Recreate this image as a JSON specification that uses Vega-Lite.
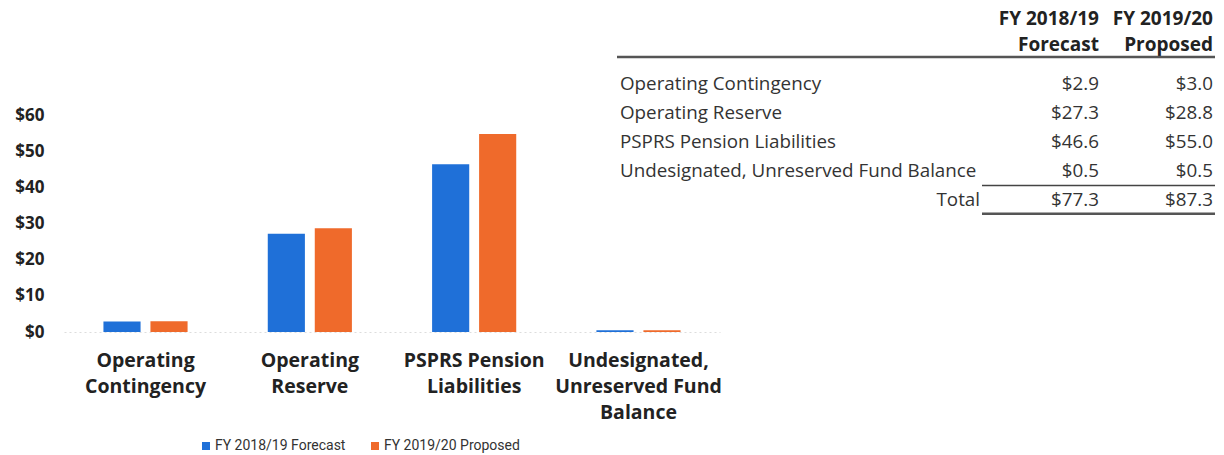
{
  "$schema": "https://vega.github.io/schema/vega-lite/v6.json",
  "width": 1160,
  "height": 332,
  "autosize": "none",
  "padding": {"left": 64, "top": 0, "right": 0, "bottom": 123},
  "background": "white",
  "config": {"view": {"stroke": null}, "font": "Open Sans"},
  "datasets": {
    "reserves": [
      {"item": "Operating Contingency", "period": "FY 2018/19 Forecast", "value": 2.9},
      {"item": "Operating Contingency", "period": "FY 2019/20 Proposed", "value": 3.0},
      {"item": "Operating Reserve", "period": "FY 2018/19 Forecast", "value": 27.3},
      {"item": "Operating Reserve", "period": "FY 2019/20 Proposed", "value": 28.8},
      {"item": "PSPRS Pension Liabilities", "period": "FY 2018/19 Forecast", "value": 46.6},
      {"item": "PSPRS Pension Liabilities", "period": "FY 2019/20 Proposed", "value": 55.0},
      {"item": "Undesignated, Unreserved Fund Balance", "period": "FY 2018/19 Forecast", "value": 0.5},
      {"item": "Undesignated, Unreserved Fund Balance", "period": "FY 2019/20 Proposed", "value": 0.5}
    ],
    "headers": [
      {"period": "FY 2018/19 Forecast", "header": "FY 2018/19\nForecast"},
      {"period": "FY 2019/20 Proposed", "header": "FY 2019/20\nProposed"}
    ]
  },
  "layer": [
    {
      "data": {"name": "reserves"},
      "mark": {"type": "bar"},
      "encoding": {
        "x": {
          "field": "item", "type": "nominal", "sort": null,
          "scale": {"domain": ["Operating Contingency", "Operating Reserve", "PSPRS Pension Liabilities", "Undesignated, Unreserved Fund Balance"], "range": [0, 656], "paddingInner": 0.488, "paddingOuter": 0.24},
          "axis": {
            "title": null, "labelAngle": 0, "ticks": false, "domain": true, "domainColor": "#dddddd", "domainDash": [2, 3],
            "labelFontSize": 19.5, "labelFontWeight": "bold", "labelColor": "#222222", "labelPadding": 19,
            "labelLineHeight": 26, "labelLimit": 0, "labelBaseline": "top",
            "labelExpr": "datum.value == 'Operating Contingency' ? ['Operating','Contingency'] : datum.value == 'Operating Reserve' ? ['Operating','Reserve'] : datum.value == 'PSPRS Pension Liabilities' ? ['PSPRS Pension','Liabilities'] : ['Undesignated,','Unreserved Fund','Balance']"
          }
        },
        "xOffset": {
          "field": "period", "type": "nominal",
          "scale": {"domain": ["FY 2018/19 Forecast", "FY 2019/20 Proposed"], "paddingInner": 0.21, "paddingOuter": 0}
        },
        "y": {
          "field": "value", "type": "quantitative",
          "scale": {"domain": [0, 92.22], "nice": false},
          "axis": {"values": [0, 10, 20, 30, 40, 50, 60], "labelExpr": "'$' + datum.value", "grid": false, "domain": false, "ticks": false, "title": null, "labelFontSize": 17, "labelFontWeight": "bold", "labelColor": "#222222", "labelPadding": 20}
        },
        "color": {
          "field": "period", "type": "nominal",
          "scale": {"domain": ["FY 2018/19 Forecast", "FY 2019/20 Proposed"], "range": ["#1f70d8", "#ef6a2b"]},
          "legend": {"orient": "none", "legendX": 135, "legendY": 439, "direction": "horizontal", "title": null, "symbolType": "square", "symbolSize": 64, "labelFontSize": 14, "labelFont": "Roboto", "columnPadding": 22, "labelColor": "#333333", "symbolStrokeWidth": 0, "labelOffset": 2}
        }
      }
    },
    {
      "data": {"name": "reserves"},
      "transform": [{"filter": "datum.period == 'FY 2018/19 Forecast'"}],
      "mark": {"type": "text", "align": "left", "baseline": "middle", "fontSize": 18.8, "color": "#333333"},
      "encoding": {
        "x": {"datum": "Item", "type": "nominal", "scale": {"domain": ["Item"], "range": [506, 606], "paddingInner": 0, "paddingOuter": 0}, "axis": null},
        "y": {"field": "item", "type": "nominal", "scale": {"domain": ["Header", "Operating Contingency", "Operating Reserve", "PSPRS Pension Liabilities", "Undesignated, Unreserved Fund Balance", "Total"], "range": [40.5, 214.5], "paddingInner": 0, "paddingOuter": 0}, "axis": null},
        "text": {"field": "item", "type": "nominal"}
      }
    },
    {
      "data": {"values": [{}]},
      "mark": {"type": "text", "text": "Total", "align": "right", "baseline": "middle", "fontSize": 18.8, "color": "#333333"},
      "encoding": {
        "x": {"datum": "Item", "type": "nominal", "scale": {"domain": ["Item"], "range": [866, 966], "paddingInner": 0, "paddingOuter": 0}, "axis": null},
        "y": {"datum": "Total", "type": "nominal", "scale": {"domain": ["Header", "Operating Contingency", "Operating Reserve", "PSPRS Pension Liabilities", "Undesignated, Unreserved Fund Balance", "Total"], "range": [40.5, 214.5], "paddingInner": 0, "paddingOuter": 0}, "axis": null}
      }
    },
    {
      "data": {"name": "reserves"},
      "mark": {"type": "text", "align": "right", "baseline": "middle", "fontSize": 18.8, "color": "#333333"},
      "encoding": {
        "x": {"field": "period", "type": "nominal", "scale": {"type": "point", "domain": ["FY 2018/19 Forecast", "FY 2019/20 Proposed"], "range": [1035, 1149], "padding": 0}, "axis": null},
        "y": {"field": "item", "type": "nominal", "scale": {"domain": ["Header", "Operating Contingency", "Operating Reserve", "PSPRS Pension Liabilities", "Undesignated, Unreserved Fund Balance", "Total"], "range": [40.5, 214.5], "paddingInner": 0, "paddingOuter": 0}, "axis": null},
        "text": {"field": "value", "type": "quantitative", "format": "$.1f"}
      }
    },
    {
      "data": {"name": "reserves"},
      "transform": [{"aggregate": [{"op": "sum", "field": "value", "as": "total"}], "groupby": ["period"]}],
      "mark": {"type": "text", "align": "right", "baseline": "middle", "fontSize": 18.8, "color": "#333333"},
      "encoding": {
        "x": {"field": "period", "type": "nominal", "scale": {"type": "point", "domain": ["FY 2018/19 Forecast", "FY 2019/20 Proposed"], "range": [1035, 1149], "padding": 0}, "axis": null},
        "y": {"datum": "Total", "type": "nominal", "scale": {"domain": ["Header", "Operating Contingency", "Operating Reserve", "PSPRS Pension Liabilities", "Undesignated, Unreserved Fund Balance", "Total"], "range": [40.5, 214.5], "paddingInner": 0, "paddingOuter": 0}, "axis": null},
        "text": {"field": "total", "type": "quantitative", "format": "$.1f"}
      }
    },
    {
      "data": {"name": "headers"},
      "mark": {"type": "text", "align": "right", "baseline": "bottom", "dy": -26, "fontSize": 19, "fontWeight": "bold", "color": "#222222", "lineBreak": "\n", "lineHeight": 26},
      "encoding": {
        "x": {"field": "period", "type": "nominal", "scale": {"type": "point", "domain": ["FY 2018/19 Forecast", "FY 2019/20 Proposed"], "range": [1035, 1149], "padding": 0}, "axis": null},
        "y": {"datum": "Header", "type": "nominal", "bandPosition": 0.36, "scale": {"domain": ["Header", "Operating Contingency", "Operating Reserve", "PSPRS Pension Liabilities", "Undesignated, Unreserved Fund Balance", "Total"], "range": [40.5, 214.5], "paddingInner": 0, "paddingOuter": 0}, "axis": null},
        "text": {"field": "header", "type": "nominal"}
      }
    },
    {
      "data": {"values": [{}]},
      "mark": {"type": "rule", "strokeWidth": 2.5, "color": "#555555"},
      "encoding": {
        "x": {"datum": "Table", "type": "nominal", "bandPosition": 0, "scale": {"domain": ["Table"], "range": [553, 1151], "paddingInner": 0, "paddingOuter": 0}, "axis": null},
        "x2": {"datum": "Table", "bandPosition": 1},
        "y": {"datum": "Header", "type": "nominal", "bandPosition": 0.57, "scale": {"domain": ["Header", "Operating Contingency", "Operating Reserve", "PSPRS Pension Liabilities", "Undesignated, Unreserved Fund Balance", "Total"], "range": [40.5, 214.5], "paddingInner": 0, "paddingOuter": 0}, "axis": null}
      }
    },
    {
      "data": {"values": [{}]},
      "mark": {"type": "rule", "strokeWidth": 1.5, "color": "#444444"},
      "encoding": {
        "x": {"datum": "FY 2018/19 Forecast", "type": "nominal", "bandPosition": 0, "scale": {"domain": ["FY 2018/19 Forecast", "FY 2019/20 Proposed"], "range": [918, 1151], "paddingInner": 0, "paddingOuter": 0}, "axis": null},
        "x2": {"datum": "FY 2019/20 Proposed", "bandPosition": 1},
        "y": {"datum": "Total", "type": "nominal", "bandPosition": 0, "scale": {"domain": ["Header", "Operating Contingency", "Operating Reserve", "PSPRS Pension Liabilities", "Undesignated, Unreserved Fund Balance", "Total"], "range": [40.5, 214.5], "paddingInner": 0, "paddingOuter": 0}, "axis": null}
      }
    },
    {
      "data": {"values": [{}]},
      "mark": {"type": "rule", "strokeWidth": 2.5, "color": "#555555"},
      "encoding": {
        "x": {"datum": "FY 2018/19 Forecast", "type": "nominal", "bandPosition": 0, "scale": {"domain": ["FY 2018/19 Forecast", "FY 2019/20 Proposed"], "range": [918, 1151], "paddingInner": 0, "paddingOuter": 0}, "axis": null},
        "x2": {"datum": "FY 2019/20 Proposed", "bandPosition": 1},
        "y": {"datum": "Total", "type": "nominal", "bandPosition": 0.97, "scale": {"domain": ["Header", "Operating Contingency", "Operating Reserve", "PSPRS Pension Liabilities", "Undesignated, Unreserved Fund Balance", "Total"], "range": [40.5, 214.5], "paddingInner": 0, "paddingOuter": 0}, "axis": null}
      }
    }
  ],
  "resolve": {"scale": {"x": "independent", "y": "independent"}, "axis": {"x": "independent", "y": "independent"}}
}
